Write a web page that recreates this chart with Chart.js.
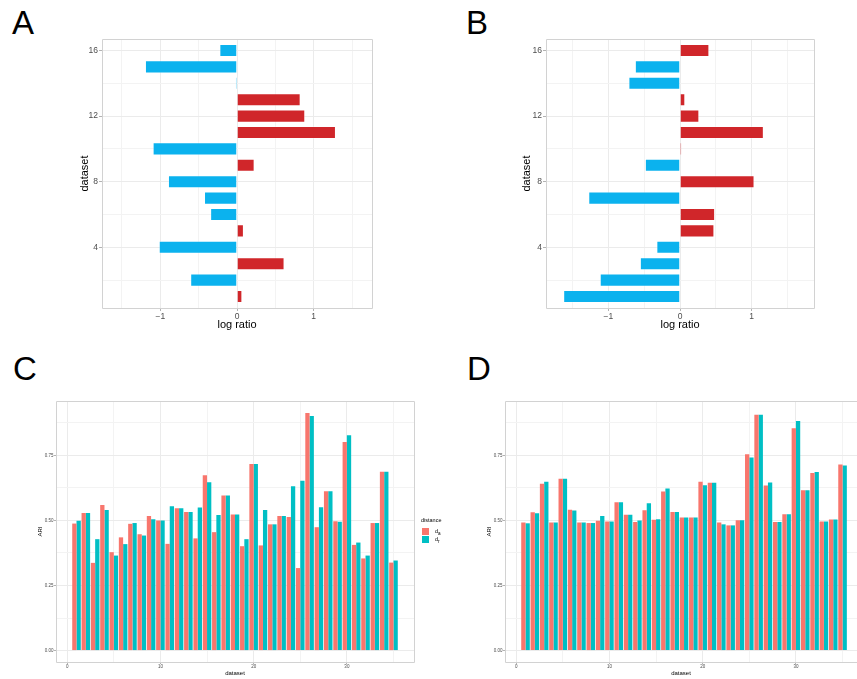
<!DOCTYPE html>
<html>
<head>
<meta charset="utf-8">
<script src="https://cdn.jsdelivr.net/npm/chart.js@4.4.1/dist/chart.umd.min.js"></script>
<style>
  html, body { margin: 0; padding: 0; width: 857px; height: 679px; overflow: hidden; background: #fff; }
  body { position: relative; font-family: "Liberation Sans", Arial, sans-serif; }
  canvas { position: absolute; }
  .tag { position: absolute; font-size: 33px; line-height: 33px; color: #000; }
  .legend { position: absolute; left: 421px; top: 517px; font-size: 5.5px; color: #000; }
  .legend .key { position: absolute; width: 7px; height: 7px; left: 1px; }
  .legend .lab { position: absolute; left: 14px; font-size: 5.5px; }
</style>
</head>
<body>
<div class="tag" style="left:12px;top:6px">A</div>
<div class="tag" style="left:466px;top:6px">B</div>
<div class="tag" style="left:13px;top:352px">C</div>
<div class="tag" style="left:467px;top:352px">D</div>

<canvas id="chartA" width="320" height="305" style="left:60px;top:30px"></canvas>
<canvas id="chartB" width="320" height="305" style="left:500px;top:30px"></canvas>
<canvas id="chartC" width="440" height="284" style="left:30px;top:395px"></canvas>
<canvas id="chartD" width="377" height="284" style="left:480px;top:395px"></canvas>

<div class="legend">
  <div style="position:absolute;left:0;top:0;white-space:nowrap">distance</div>
  <div class="key" style="top:11px;background:#F8766D"></div>
  <div class="lab" style="top:11px">d<sub>a</sub></div>
  <div class="key" style="top:19px;background:#00BFC4"></div>
  <div class="lab" style="top:19px">d<sub>r</sub></div>
</div>

<script>
/* Werte oben: Panels A und B (log ratio je Datensatz) */
const datasetIds = [1, 2, 3, 4, 5, 6, 7, 8, 9, 10, 11, 12, 13, 14, 15, 16];
const logRatioA = [0.07, -0.61, 0.62, -1.02, 0.09, -0.35, -0.43, -0.90, 0.23, -1.10, 1.29, 0.89, 0.83, -0.02, -1.20, -0.23];
const logRatioB = [-1.63, -1.12, -0.56, -0.33, 0.48, 0.49, -1.28, 1.04, -0.49, 0.023, 1.17, 0.27, 0.074, -0.72, -0.63, 0.41];

/* Panels C und D (ARI je Datensatz, zwei Distanzen) */
const ariIds = [1, 2, 3, 4, 5, 6, 7, 8, 9, 10, 11, 12, 13, 14, 15, 16, 17, 18, 19, 20,
                21, 22, 23, 24, 25, 26, 27, 28, 29, 30, 31, 32, 33, 34, 35];
const ariC_a = [0.488, 0.529, 0.337, 0.559, 0.378, 0.435, 0.487, 0.447, 0.517, 0.500,
                0.410, 0.547, 0.532, 0.431, 0.674, 0.455, 0.596, 0.523, 0.401, 0.717,
                0.404, 0.485, 0.517, 0.513, 0.317, 0.913, 0.474, 0.612, 0.497, 0.801,
                0.406, 0.354, 0.490, 0.687, 0.338];
const ariC_r = [0.499, 0.529, 0.428, 0.540, 0.365, 0.409, 0.490, 0.442, 0.505, 0.500,
                0.555, 0.547, 0.532, 0.550, 0.647, 0.521, 0.596, 0.523, 0.428, 0.717,
                0.540, 0.485, 0.517, 0.631, 0.653, 0.901, 0.551, 0.612, 0.495, 0.827,
                0.415, 0.365, 0.490, 0.687, 0.346];
const ariD_a = [0.492, 0.531, 0.641, 0.492, 0.660, 0.541, 0.492, 0.490, 0.499, 0.496,
                0.570, 0.522, 0.494, 0.539, 0.503, 0.611, 0.532, 0.511, 0.511, 0.649,
                0.645, 0.492, 0.481, 0.501, 0.754, 0.906, 0.634, 0.494, 0.524, 0.854,
                0.616, 0.682, 0.496, 0.504, 0.715];
const ariD_r = [0.489, 0.528, 0.649, 0.492, 0.660, 0.538, 0.492, 0.490, 0.517, 0.496,
                0.570, 0.522, 0.500, 0.566, 0.505, 0.623, 0.532, 0.511, 0.511, 0.635,
                0.645, 0.485, 0.481, 0.501, 0.742, 0.906, 0.646, 0.494, 0.524, 0.882,
                0.616, 0.686, 0.496, 0.504, 0.711];

/* Achsenticks (Gitterlinien) und welche davon beschriftet sind */
const ratioTicks = [-1.5, -1, -0.5, 0, 0.5, 1, 1.5];
const ratioLabels = [-1, 0, 1];
const idTicks = [2, 4, 6, 8, 10, 12, 14, 16];
const idLabels = [4, 8, 12, 16];
const ariTicks = [0, 0.125, 0.25, 0.375, 0.5, 0.625, 0.75, 0.875];
const ariLabels = [0, 0.25, 0.5, 0.75];
const ariIdTicks = [0, 5, 10, 15, 20, 25, 30, 35];
const ariIdLabels = [0, 10, 20, 30];

const FONT = '"Liberation Sans", Arial, sans-serif';
const RED = '#D0262A', BLUE = '#0BB2EE';

/* Rahmen um die Plotfläche (ggplot panel.border); Panel D ist rechts abgeschnitten */
const panelBorder = {
  id: 'panelBorder',
  afterDraw(chart, args, opts) {
    const a = chart.chartArea, ctx = chart.ctx;
    const l = Math.round(a.left) + 0.5, t = Math.round(a.top) + 0.5;
    const r = Math.round(a.right) + 0.5, b = Math.round(a.bottom) + 0.5;
    ctx.save();
    ctx.strokeStyle = '#D2D2D2';
    ctx.lineWidth = 1;
    ctx.beginPath();
    if (opts.openRight) {
      ctx.moveTo(chart.width, t); ctx.lineTo(l, t); ctx.lineTo(l, b); ctx.lineTo(chart.width, b);
    } else {
      ctx.rect(l, t, r - l, b - t);
    }
    ctx.stroke();
    ctx.restore();
  }
};

function isIn(list, v) {
  return list.some(x => Math.abs(x - v) < 1e-9);
}

/* baut eine Achse mit festen Ticks, Haupt-/Nebengitter */
function makeAxis(o) {
  const major = c => c && c.tick && isIn(o.labels, c.tick.value);
  return {
    type: 'linear',
    min: o.min,
    max: o.max,
    offset: false,
    afterBuildTicks: s => { s.ticks = o.ticks.map(v => ({ value: v })); },
    afterFit: s => { if (o.horizontal) s.height = o.size; else s.width = o.size; },
    border: { display: false, color: '#D2D2D2' },
    grid: {
      offset: false,
      color: c => major(c) ? '#EBEBEB' : '#F3F3F3',
      lineWidth: 1,
      drawTicks: true,
      tickLength: o.tickLength,
      tickWidth: 1,
      tickColor: c => major(c) ? '#B3B3B3' : 'rgba(0,0,0,0)'
    },
    ticks: {
      autoSkip: false,
      maxRotation: 0,
      padding: o.tickPad,
      color: '#4D4D4D',
      font: { family: FONT, size: o.tickFont },
      callback: v => isIn(o.labels, v) ? o.fmt(v) : ''
    },
    title: {
      display: true,
      text: o.title,
      color: '#000',
      font: { family: FONT, size: o.titleFont },
      padding: o.titlePad
    }
  };
}

function fmtRatio(v) {
  return v < 0 ? '\u2212' + Math.abs(v) : String(v);
}

/* Panel A / B: horizontale Balken */
function ratioChart(id, values, xMax, yWidth, yTitlePad, rightPad) {
  new Chart(document.getElementById(id), {
    type: 'bar',
    data: {
      datasets: [{
        data: values.map((v, i) => ({ x: v, y: datasetIds[i] })),
        backgroundColor: c => (c.raw && c.raw.x < 0) ? BLUE : RED,
        borderColor: 'rgba(255,255,255,0.35)',
        borderWidth: 1,
        barPercentage: 0.8,
        categoryPercentage: 1
      }]
    },
    options: {
      indexAxis: 'y',
      responsive: false,
      animation: false,
      layout: { padding: { top: 9, right: rightPad, left: 0, bottom: 0 } },
      plugins: { legend: { display: false }, tooltip: { enabled: false }, panelBorder: { openRight: false } },
      scales: {
        x: makeAxis({ min: -xMax, max: xMax, ticks: ratioTicks, labels: ratioLabels, horizontal: true,
                      size: 27, tickLength: 3, tickPad: 1, tickFont: 8.5, fmt: fmtRatio,
                      title: 'log ratio', titleFont: 11, titlePad: { top: 0, bottom: 3.4 } }),
        y: makeAxis({ min: 0.3, max: 16.7, ticks: idTicks, labels: idLabels, horizontal: false,
                      size: yWidth, tickLength: 3, tickPad: 1, tickFont: 8.5, fmt: v => String(v),
                      title: 'dataset', titleFont: 11, titlePad: { top: yTitlePad, bottom: 0 } })
      }
    },
    plugins: [panelBorder]
  });
}

/* Panel C / D: gruppierte Balken */
function ariChart(id, valsA, valsR, xMax, yWidth, yTitlePad, rightPad, openRight) {
  new Chart(document.getElementById(id), {
    type: 'bar',
    data: {
      datasets: [
        { label: 'd_a', data: valsA.map((v, i) => ({ x: ariIds[i], y: v })), backgroundColor: '#F8766D' },
        { label: 'd_r', data: valsR.map((v, i) => ({ x: ariIds[i], y: v })), backgroundColor: '#00BFC4' }
      ]
    },
    options: {
      responsive: false,
      animation: false,
      datasets: { bar: { barPercentage: 1, categoryPercentage: 0.92, borderWidth: 0 } },
      layout: { padding: { top: 6, right: rightPad, left: 0, bottom: 0 } },
      plugins: { legend: { display: false }, tooltip: { enabled: false }, panelBorder: { openRight: openRight } },
      scales: {
        x: makeAxis({ min: -1.2, max: xMax, ticks: ariIdTicks, labels: ariIdLabels, horizontal: true,
                      size: 17, tickLength: 2, tickPad: 0, tickFont: 4.5, fmt: v => String(v),
                      title: 'dataset', titleFont: 6, titlePad: { top: 0, bottom: 2.4 } }),
        y: makeAxis({ min: -0.044, max: 0.959, ticks: ariTicks, labels: ariLabels, horizontal: false,
                      size: yWidth, tickLength: 2, tickPad: 0.5, tickFont: 4.5, fmt: v => v.toFixed(2),
                      title: 'ARI', titleFont: 6, titlePad: { top: yTitlePad, bottom: 0 } })
      }
    },
    plugins: [panelBorder]
  });
}

ratioChart('chartA', logRatioA, 1.76, 42, 18.4, 8);
ratioChart('chartB', logRatioB, 1.87, 46, 20.4, 6);
ariChart('chartC', ariC_a, ariC_r, 37.2, 26, 6.4, 56, false);
/* D: sichtbarer Ausschnitt endet am Bildrand (x ≈ 36.55) */
ariChart('chartD', ariD_a, ariD_r, 36.55, 25, 5.4, 0, true);
</script>
</body>
</html>
